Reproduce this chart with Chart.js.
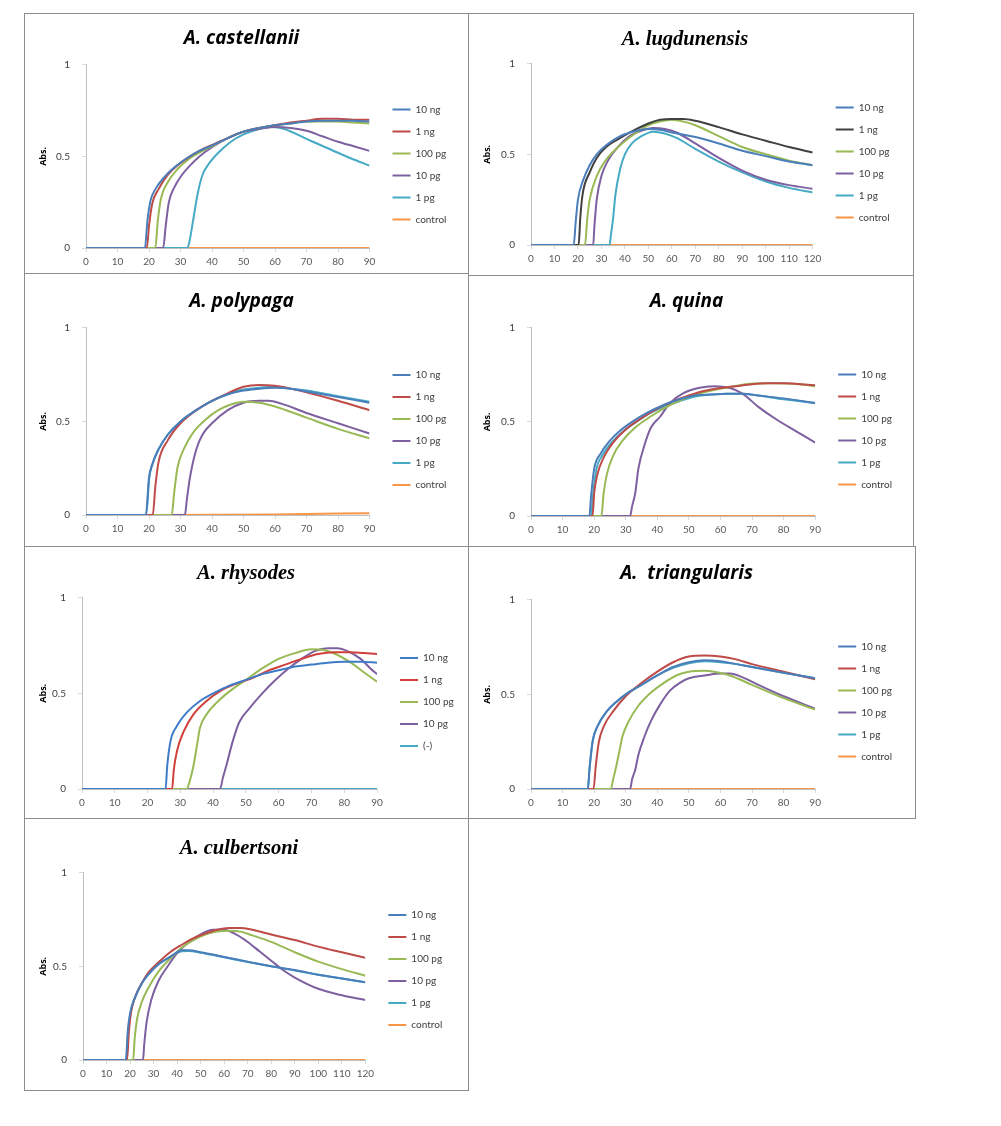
<!DOCTYPE html>
<html>
<head>
<meta charset="utf-8">
<script src="https://cdn.jsdelivr.net/npm/chart.js@4.4.1/dist/chart.umd.min.js"></script>
<style>
body { margin: 0; background: #fff; }
.panel { position: absolute; border: 1px solid #8c8c8c; box-sizing: border-box; background: #fff; }
.panel canvas { display: block; }
</style>
</head>
<body>
<div class="panel" style="left:24px;top:13px;width:445px;height:261px"><canvas id="c1" width="443" height="259"></canvas></div>
<div class="panel" style="left:468px;top:13px;width:446px;height:263px"><canvas id="c2" width="444" height="261"></canvas></div>
<div class="panel" style="left:24px;top:273px;width:445px;height:274px"><canvas id="c3" width="443" height="272"></canvas></div>
<div class="panel" style="left:468px;top:275px;width:446px;height:272px"><canvas id="c4" width="444" height="270"></canvas></div>
<div class="panel" style="left:24px;top:546px;width:445px;height:273px"><canvas id="c5" width="443" height="271"></canvas></div>
<div class="panel" style="left:468px;top:546px;width:448px;height:273px"><canvas id="c6" width="446" height="271"></canvas></div>
<div class="panel" style="left:24px;top:818px;width:445px;height:273px"><canvas id="c7" width="443" height="271"></canvas></div>
<script>
// legend labels
const labels = ['10 ng', '1 ng', '100 pg', '10 pg', '1 pg', 'control'];
const labelsRhy = ['10 ng', '1 ng', '100 pg', '10 pg', '(-)'];
const xTicks90 = [0, 90];
const xTicks120 = [0, 120];

// A. castellanii
const cas10ng = [[0,0],[18.7,0],[19.5,0.15],[20.5,0.26],[22,0.32],[25,0.39],[28,0.44],[32,0.49],[36,0.53],[40,0.56],[45,0.6],[50,0.635],[55,0.655],[60,0.67],[65,0.68],[70,0.69],[75,0.695],[80,0.695],[85,0.695],[90,0.69]];
const cas1ng = [[0,0],[19.3,0],[20,0.12],[21,0.24],[23,0.32],[26,0.4],[29,0.45],[33,0.5],[37,0.54],[41,0.57],[45,0.6],[50,0.635],[55,0.655],[60,0.67],[65,0.685],[70,0.695],[75,0.705],[80,0.705],[85,0.7],[90,0.7]];
const cas100pg = [[0,0],[22,0],[22.8,0.15],[23.8,0.27],[26,0.36],[29,0.43],[33,0.49],[37,0.53],[41,0.565],[45,0.6],[50,0.635],[55,0.655],[60,0.67],[65,0.68],[70,0.69],[75,0.69],[80,0.69],[85,0.685],[90,0.68]];
const cas10pg = [[0,0],[24.5,0],[25.3,0.12],[26.3,0.25],[28,0.33],[30.5,0.4],[33,0.45],[36,0.5],[40,0.55],[45,0.6],[50,0.635],[55,0.65],[60,0.66],[65,0.655],[70,0.64],[75,0.61],[80,0.58],[85,0.555],[90,0.53]];
const cas1pg = [[0,0],[32.2,0],[33,0.05],[34,0.15],[35.5,0.3],[37,0.4],[39,0.46],[42,0.52],[46,0.58],[50,0.62],[55,0.65],[59,0.66],[63,0.65],[67,0.62],[72,0.58],[78,0.535],[84,0.49],[90,0.45]];
const casCtrl = [[0,0],[90,0]];

// A. lugdunensis
const lug10ng = [[0,0],[18.2,0],[19,0.12],[20,0.25],[22,0.35],[25,0.44],[28,0.5],[32,0.55],[38,0.6],[45,0.63],[50,0.64],[55,0.635],[60,0.62],[70,0.595],[80,0.56],[90,0.52],[100,0.49],[110,0.46],[120,0.44]];
const lug1ng = [[0,0],[20.3,0],[21,0.15],[22,0.28],[25,0.4],[28,0.48],[32,0.54],[38,0.59],[45,0.64],[50,0.67],[55,0.69],[60,0.695],[65,0.695],[70,0.685],[80,0.65],[90,0.61],[100,0.575],[110,0.54],[120,0.51]];
const lug100pg = [[0,0],[23,0],[24,0.15],[25,0.25],[28,0.38],[32,0.47],[38,0.55],[45,0.62],[50,0.66],[55,0.68],[60,0.69],[65,0.68],[70,0.66],[80,0.6],[90,0.54],[100,0.5],[110,0.465],[120,0.44]];
const lug10pg = [[0,0],[26.5,0],[27,0.1],[28,0.25],[30,0.38],[33,0.47],[37,0.54],[42,0.6],[47,0.63],[52,0.645],[57,0.64],[62,0.62],[70,0.56],[80,0.48],[90,0.41],[100,0.36],[110,0.33],[120,0.31]];
const lug1pg = [[0,0],[33.5,0],[34,0.05],[35,0.15],[36,0.28],[38,0.42],[40,0.5],[43,0.56],[47,0.6],[52,0.625],[57,0.615],[62,0.59],[70,0.53],[80,0.46],[90,0.4],[100,0.35],[110,0.315],[120,0.29]];
const lugCtrl = [[0,0],[120,0]];

// A. polypaga
const pol10ng = [[0,0],[19,0],[20,0.2],[21,0.27],[23,0.35],[26,0.43],[30,0.5],[35,0.56],[40,0.61],[45,0.645],[50,0.665],[55,0.675],[60,0.68],[65,0.675],[70,0.66],[80,0.63],[90,0.6]];
const pol1ng = [[0,0],[21.2,0],[22,0.15],[23,0.28],[26,0.4],[30,0.49],[35,0.56],[40,0.61],[45,0.65],[50,0.685],[55,0.695],[60,0.69],[65,0.675],[70,0.655],[80,0.61],[90,0.56]];
const pol100pg = [[0,0],[27.2,0],[28,0.12],[29,0.25],[31,0.35],[34,0.44],[38,0.51],[42,0.56],[46,0.59],[50,0.605],[55,0.6],[60,0.58],[70,0.52],[80,0.46],[90,0.41]];
const pol10pg = [[0,0],[31.4,0],[32,0.08],[33,0.2],[35,0.35],[37,0.43],[40,0.49],[45,0.56],[50,0.6],[55,0.61],[58,0.61],[62,0.595],[70,0.545],[80,0.49],[90,0.435]];
const pol1pg = [[0,0],[19.1,0],[20.1,0.2],[21.1,0.27],[23,0.35],[26,0.43],[30,0.5],[35,0.56],[40,0.61],[45,0.645],[50,0.67],[55,0.68],[60,0.685],[65,0.675],[70,0.665],[80,0.635],[90,0.605]];
const polCtrl = [[0,0],[60,0.003],[90,0.01]];

// A. quina
const qui10ng = [[0,0],[18.5,0],[19,0.1],[20,0.25],[22,0.33],[25,0.4],[28,0.45],[32,0.5],[37,0.55],[42,0.59],[47,0.62],[52,0.64],[57,0.645],[62,0.65],[67,0.65],[72,0.64],[80,0.625],[90,0.6]];
const qui1ng = [[0,0],[19.5,0],[20,0.12],[21,0.22],[23,0.31],[26,0.39],[30,0.46],[35,0.52],[40,0.57],[45,0.61],[50,0.64],[55,0.665],[60,0.68],[65,0.69],[70,0.7],[75,0.705],[80,0.705],[90,0.695]];
const qui100pg = [[0,0],[22.3,0],[23,0.12],[24,0.22],[26,0.32],[29,0.4],[33,0.47],[38,0.53],[43,0.58],[48,0.62],[53,0.65],[58,0.67],[63,0.685],[68,0.7],[73,0.705],[78,0.705],[85,0.7],[90,0.69]];
const qui10pg = [[0,0],[31.4,0],[32,0.05],[33,0.12],[34,0.25],[36,0.38],[38,0.47],[41,0.53],[44,0.6],[48,0.65],[53,0.68],[58,0.69],[63,0.68],[67,0.65],[72,0.58],[78,0.51],[84,0.45],[90,0.39]];
const qui1pg = [[0,0],[19,0],[19.6,0.1],[20.6,0.24],[22.5,0.32],[25.5,0.39],[28.5,0.44],[32.5,0.49],[37,0.54],[42,0.58],[47,0.61],[52,0.635],[57,0.645],[62,0.65],[67,0.65],[72,0.64],[80,0.62],[90,0.6]];
const quiCtrl = [[0,0],[90,0]];

// A. rhysodes
const rhy10ng = [[0,0],[25.5,0],[26,0.12],[27,0.25],[29,0.33],[32,0.4],[36,0.46],[40,0.5],[45,0.54],[50,0.57],[55,0.6],[60,0.62],[65,0.64],[70,0.65],[75,0.66],[80,0.665],[85,0.665],[90,0.66]];
const rhy1ng = [[0,0],[27.5,0],[28,0.1],[29,0.2],[31,0.3],[34,0.39],[38,0.46],[42,0.51],[47,0.55],[52,0.58],[57,0.62],[62,0.65],[67,0.68],[72,0.705],[77,0.715],[82,0.715],[86,0.71],[90,0.705]];
const rhy100pg = [[0,0],[31.9,0],[33,0.05],[34,0.12],[35,0.22],[36,0.32],[38,0.39],[41,0.45],[45,0.51],[50,0.57],[55,0.63],[60,0.68],[65,0.71],[70,0.73],[74,0.725],[78,0.7],[82,0.66],[86,0.61],[90,0.56]];
const rhy10pg = [[0,0],[42.1,0],[43,0.06],[44,0.12],[46,0.25],[48,0.35],[51,0.42],[55,0.5],[59,0.57],[63,0.63],[67,0.68],[71,0.72],[75,0.735],[78,0.735],[81,0.72],[85,0.68],[88,0.63],[90,0.6]];
const rhyNeg = [[0,0],[90,0]];

// A. triangularis
const tri10ng = [[0,0],[18,0],[18.5,0.1],[19.5,0.25],[21,0.33],[24,0.41],[27,0.46],[30,0.5],[35,0.55],[40,0.6],[45,0.645],[50,0.67],[55,0.68],[60,0.675],[65,0.66],[70,0.645],[80,0.615],[90,0.585]];
const tri1ng = [[0,0],[19.8,0],[20.5,0.12],[21.5,0.25],[23,0.33],[26,0.41],[30,0.49],[35,0.56],[40,0.62],[45,0.67],[50,0.7],[55,0.705],[60,0.7],[65,0.685],[70,0.66],[80,0.62],[90,0.58]];
const tri100pg = [[0,0],[25.3,0],[26,0.05],[27,0.12],[28,0.2],[29,0.28],[31,0.36],[34,0.44],[38,0.51],[42,0.56],[46,0.6],[50,0.62],[55,0.625],[58,0.62],[62,0.605],[66,0.58],[70,0.55],[80,0.48],[90,0.42]];
const tri10pg = [[0,0],[31.4,0],[32,0.05],[33,0.1],[34,0.18],[36,0.28],[38,0.36],[41,0.45],[44,0.52],[47,0.56],[50,0.585],[55,0.6],[60,0.61],[63,0.61],[67,0.59],[72,0.55],[80,0.49],[90,0.425]];
const tri1pg = [[0,0],[18,0],[18.6,0.12],[19.6,0.26],[21,0.33],[24,0.41],[27,0.46],[30,0.5],[35,0.55],[40,0.6],[45,0.64],[50,0.665],[55,0.675],[60,0.67],[65,0.66],[70,0.645],[80,0.615],[90,0.585]];
const triCtrl = [[0,0],[90,0]];

// A. culbertsoni
const cul10ng = [[0,0],[18.2,0],[19,0.15],[20,0.25],[22,0.33],[25,0.41],[28,0.46],[32,0.51],[37,0.55],[42,0.585],[45,0.585],[50,0.575],[60,0.55],[70,0.525],[80,0.5],[90,0.48],[100,0.455],[110,0.435],[120,0.415]];
const cul1ng = [[0,0],[18.7,0],[19.5,0.15],[20.5,0.26],[22,0.33],[25,0.41],[28,0.47],[32,0.52],[37,0.575],[42,0.615],[47,0.65],[52,0.675],[57,0.695],[62,0.705],[67,0.705],[72,0.695],[80,0.67],[90,0.64],[100,0.605],[110,0.575],[120,0.545]];
const cul100pg = [[0,0],[21.3,0],[22,0.12],[23,0.22],[25,0.31],[28,0.39],[32,0.47],[37,0.54],[42,0.6],[47,0.64],[52,0.67],[57,0.685],[62,0.69],[67,0.685],[72,0.665],[80,0.63],[90,0.575],[100,0.525],[110,0.485],[120,0.45]];
const cul10pg = [[0,0],[25.5,0],[26,0.08],[27,0.2],[29,0.32],[32,0.42],[36,0.5],[40,0.57],[45,0.63],[50,0.67],[55,0.695],[60,0.695],[65,0.67],[70,0.63],[75,0.58],[80,0.53],[85,0.48],[90,0.44],[100,0.38],[110,0.345],[120,0.32]];
const cul1pg = [[0,0],[18.4,0],[19.2,0.15],[20.2,0.25],[22,0.33],[25,0.41],[28,0.46],[32,0.51],[37,0.55],[42,0.58],[45,0.582],[50,0.572],[60,0.548],[70,0.523],[80,0.5],[90,0.478],[100,0.455],[110,0.435],[120,0.415]];
const culCtrl = [[0,0],[120,0]];

const blue = '#4a7ebb', red = '#be4b48', green = '#98b954', purple = '#7d60a0', aqua = '#46aac5', orange = '#f79646';
const stdColors = [blue, red, green, purple, aqua, orange];

const sans = "'Open Sans', sans-serif";
const serif = "'Liberation Serif', serif";
const small = 'Lato, sans-serif';

function toXY(pairs) {
    return pairs.map(p => ({x: p[0], y: p[1]}));
}

// box: y axis width, paddings, legend title height
function makeChart(id, title, titleFont, xTicks, series, names, colors, box) {
    const datasets = series.map((s, i) => ({
        label: names[i],
        data: toXY(s),
        borderColor: colors[i],
        backgroundColor: colors[i],
        borderWidth: 2,
        pointRadius: 0,
        cubicInterpolationMode: 'monotone',
        fill: false
    }));

    const lgPad = (box.legendT - 12) / 2;

    new Chart(document.getElementById(id), {
        type: 'line',
        data: {datasets},
        options: {
            responsive: false,
            animation: false,
            layout: {padding: {left: 8, right: box.right, top: box.top, bottom: box.bottom}},
            plugins: {
                title: {
                    display: true,
                    text: title,
                    color: '#000',
                    font: titleFont,
                    padding: titleFont.family === serif ? {top: 10, bottom: 12} : {top: 9, bottom: 15}
                },
                legend: {
                    position: 'right',
                    title: {display: true, text: '', font: {size: 10}, padding: {top: lgPad, bottom: lgPad}},
                    labels: {
                        usePointStyle: true,
                        pointStyle: 'line',
                        pointStyleWidth: 18,
                        padding: 12,
                        color: '#404040',
                        font: {family: small, size: 10}
                    }
                },
                tooltip: {enabled: false}
            },
            scales: {
                x: {
                    type: 'linear',
                    min: xTicks[0],
                    max: xTicks[1],
                    ticks: {stepSize: 10, color: '#595959', font: {family: small, size: 10}, padding: 4, maxRotation: 0},
                    grid: {drawOnChartArea: false, tickLength: 4, color: '#d9d9d9'},
                    border: {color: '#bfbfbf'}
                },
                y: {
                    min: 0,
                    max: 1,
                    afterFit(scale) { scale.width = box.yWidth; },
                    ticks: {stepSize: 0.5, color: '#404040', font: {family: small, size: 10}, padding: 12,
                        callback: v => String(v)},
                    grid: {drawOnChartArea: false, tickLength: 4, color: '#d9d9d9'},
                    border: {color: '#bfbfbf'},
                    title: {display: true, text: 'Abs.', color: '#000', font: {family: sans, size: 9, weight: 'bold'}, padding: {top: 5, bottom: 0}}
                },
                // empty strip between plot and legend
                gap: {
                    position: 'right',
                    display: true,
                    afterFit(scale) { scale.width = 11; },
                    ticks: {display: false},
                    grid: {display: false},
                    border: {display: false}
                }
            }
        }
    });
}

const sansTitle = {family: sans, size: 19, weight: 'bold', style: 'italic'};
const serifTitle = {family: serif, size: 20.5, weight: 'bold', style: 'italic'};

makeChart('c1', 'A. castellanii', sansTitle, xTicks90,
    [cas10ng, cas1ng, cas100pg, cas10pg, cas1pg, casCtrl], labels, stdColors,
    {yWidth: 53, top: 4, bottom: 1, right: 18, legendT: 39});
makeChart('c2', 'A. lugdunensis', serifTitle, xTicks120,
    [lug10ng, lug1ng, lug100pg, lug10pg, lug1pg, lugCtrl], labels, [blue, '#404040', green, purple, aqua, orange],
    {yWidth: 54, top: 3, bottom: 6, right: 20, legendT: 39});
makeChart('c3', 'A. polypaga', sansTitle, xTicks90,
    [pol10ng, pol1ng, pol100pg, pol10pg, pol1pg, polCtrl], labels, stdColors,
    {yWidth: 53, top: 7, bottom: 7, right: 18, legendT: 40});
makeChart('c4', 'A. quina', sansTitle, xTicks90,
    [qui10ng, qui1ng, qui100pg, qui10pg, qui1pg, quiCtrl], labels, stdColors,
    {yWidth: 54, top: 5, bottom: 6, right: 17, legendT: 38});
makeChart('c5', 'A. rhysodes', serifTitle, xTicks90,
    [rhy10ng, rhy1ng, rhy100pg, rhy10pg, rhyNeg], labelsRhy, ['#3f7cc8', '#d0413e', green, purple, aqua],
    {yWidth: 49, top: 4, bottom: 5, right: 9, legendT: 40});
makeChart('c6', 'A.  triangularis', sansTitle, xTicks90,
    [tri10ng, tri1ng, tri100pg, tri10pg, tri1pg, triCtrl], labels, stdColors,
    {yWidth: 54, top: 6, bottom: 5, right: 19, legendT: 37});
makeChart('c7', 'A. culbertsoni', serifTitle, xTicks120,
    [cul10ng, cul1ng, cul100pg, cul10pg, cul1pg, culCtrl], labels, stdColors,
    {yWidth: 50, top: 7, bottom: 6, right: 23, legendT: 30});
</script>
</body>
</html>
